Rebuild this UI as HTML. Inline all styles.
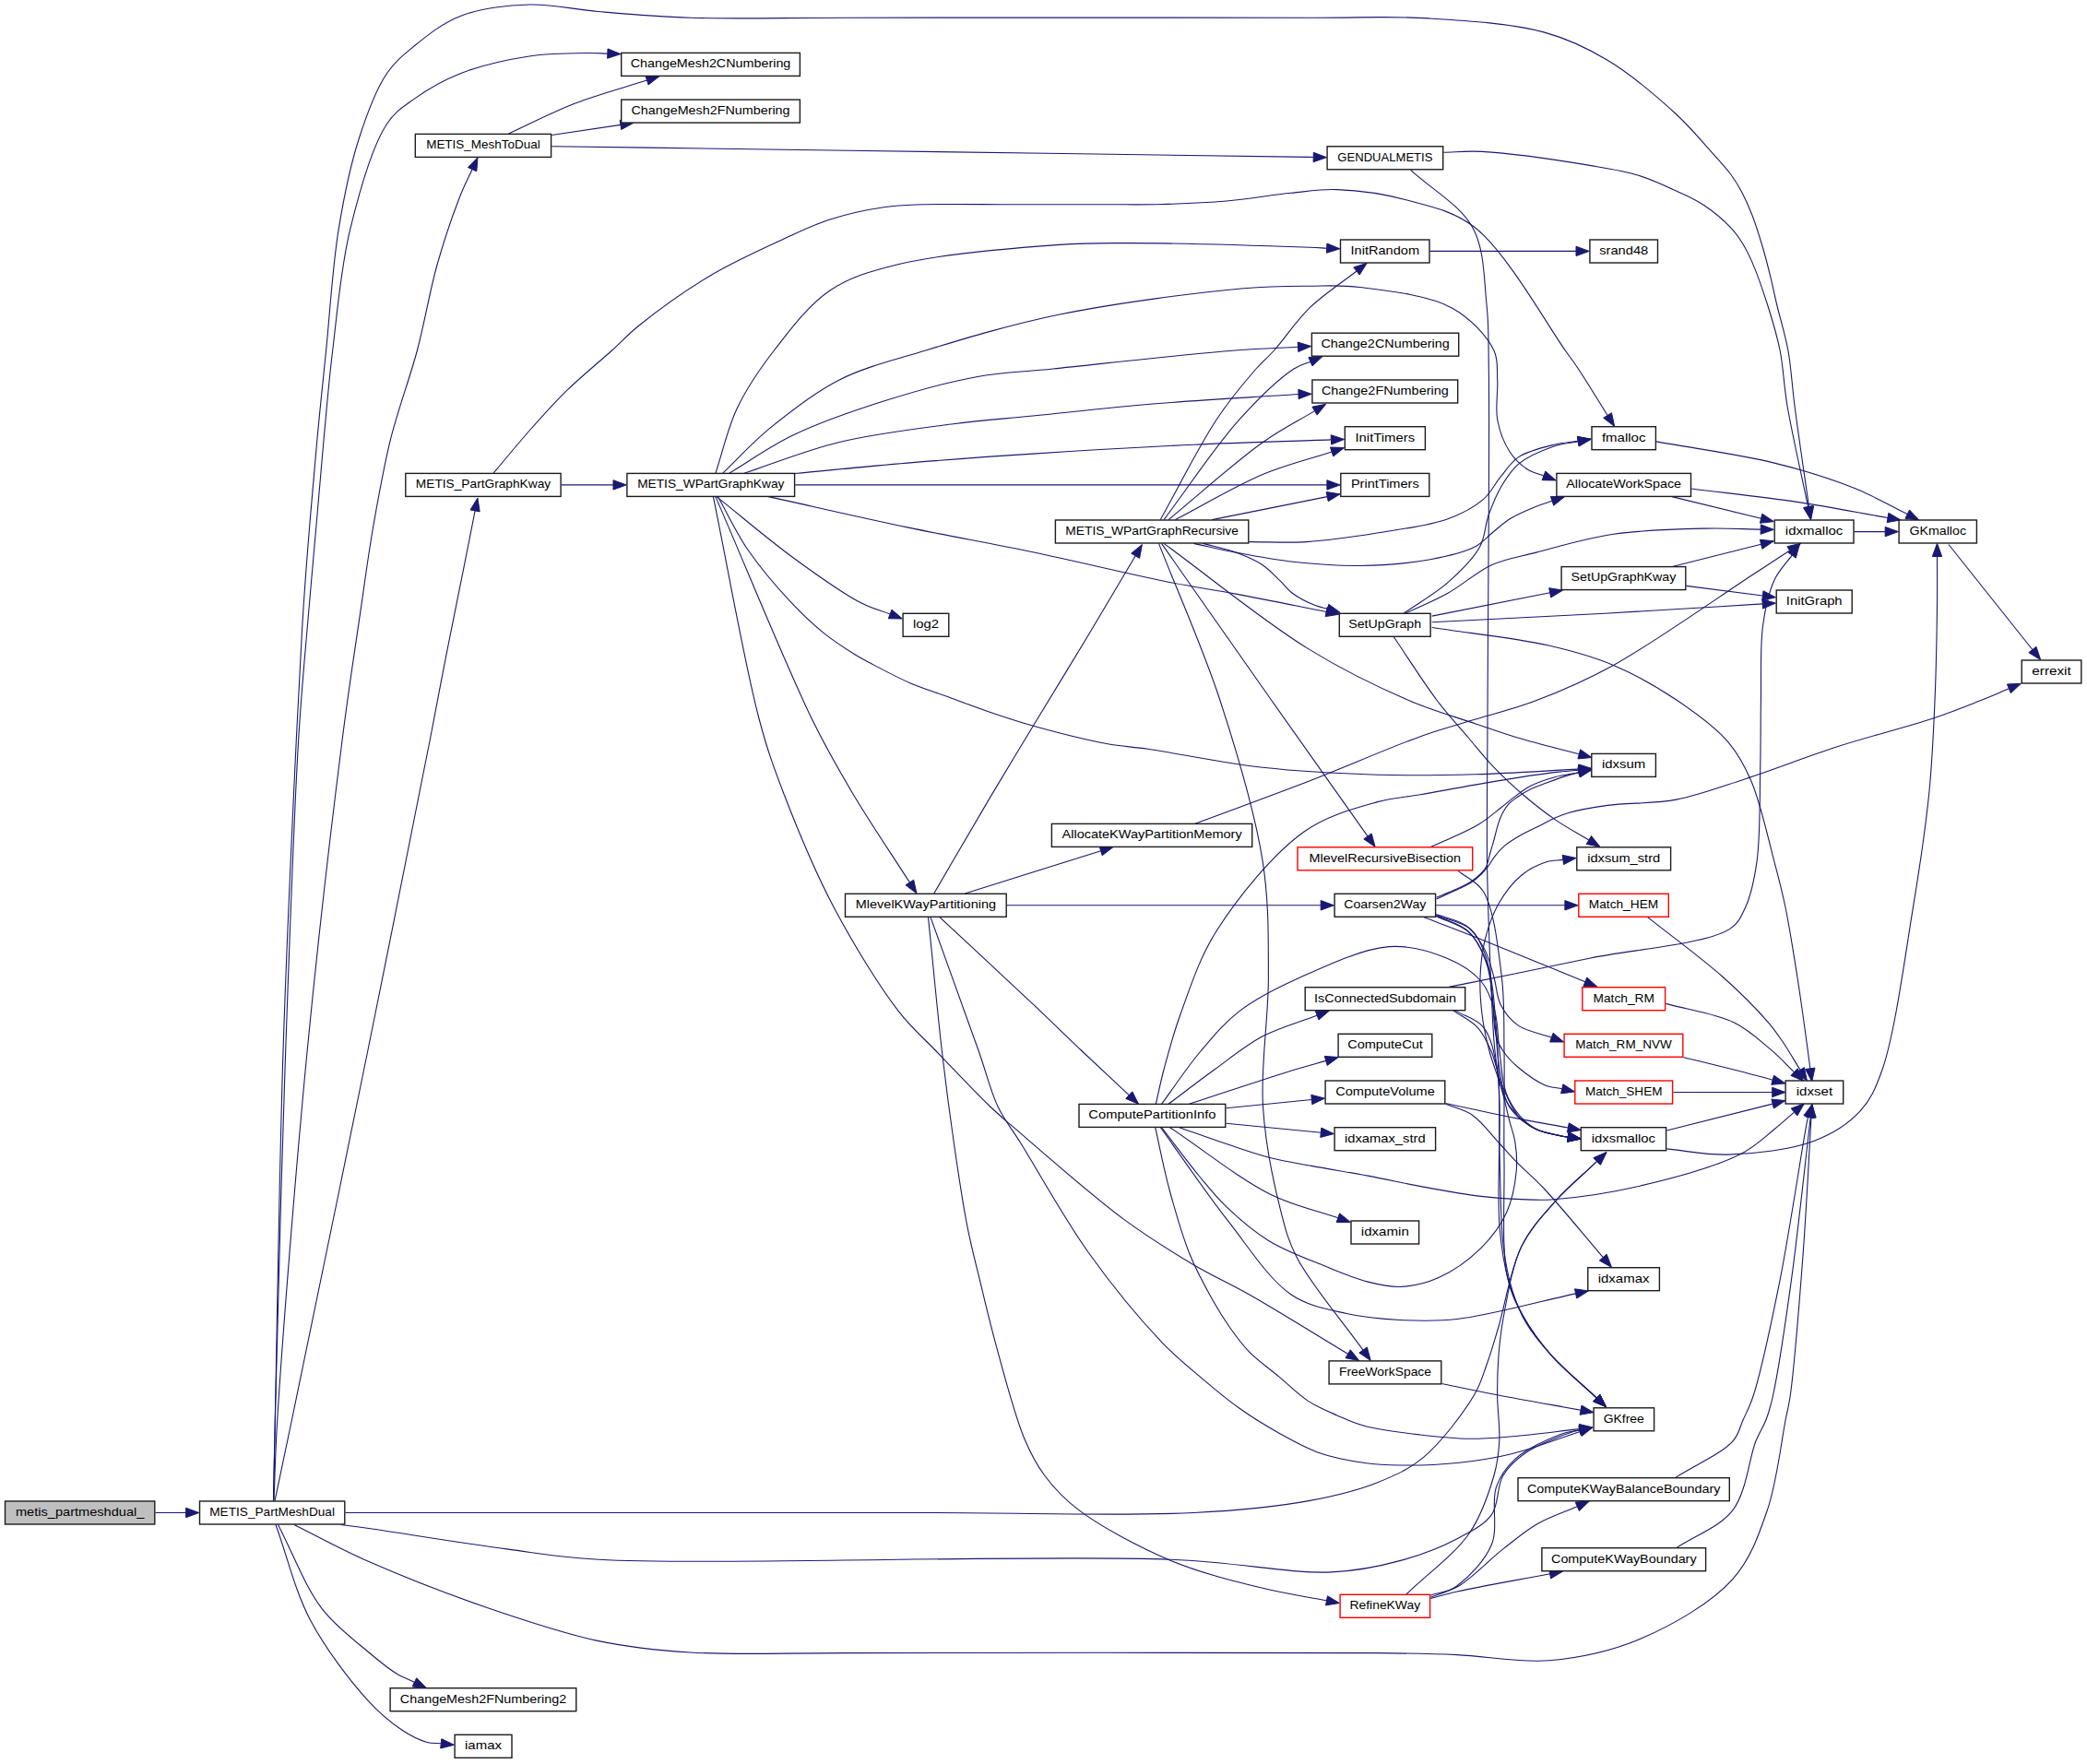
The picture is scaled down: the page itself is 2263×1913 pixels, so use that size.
<!DOCTYPE html>
<html><head><meta charset="utf-8"><title>metis_partmeshdual_ call graph</title>
<style>html,body{margin:0;padding:0;background:#fff;}svg{display:block;}text{font-family:"Liberation Sans",sans-serif;font-size:13.5px;fill:#000;}</style></head><body>
<svg xmlns="http://www.w3.org/2000/svg" width="2263" height="1913" viewBox="0 0 2263 1913">
<rect x="0" y="0" width="2263" height="1913" fill="#fff"/>
<g fill="none" stroke="#191970" stroke-width="1.1">
<path d="M168.5,1640.5L201.6,1640.5"/>
<path d="M296.5,1627.6C297.1,1598.4 297.5,1579.8 298.3,1540C300.1,1455 302.9,1267.9 307,1140C310.8,1022 317.2,887.5 321.4,800C324,745 326,706.6 328.6,665.7C330.8,631.2 333.1,602.2 335.7,570.5C338.3,538.7 341,506.9 344,475.2C347,443.4 350.1,414.2 353.6,380C357.7,339.9 360.5,289.7 367.1,249.2C372.9,213.5 379.8,179.4 389.5,149.5C397.8,123.7 407.5,97.3 419.4,79.7C428.3,66.6 437.5,59.4 449.3,49.8C463.3,38.4 480,24.8 499.2,17.4C520.8,9 548.9,5.8 573.9,5C598.8,4.2 622,10.3 648.7,12.5C679.5,15.1 710.6,17.9 748.3,19.2C797.8,20.9 847.8,19.2 920,19.2C1043.2,19.2 1307.6,18.9 1420,19.2C1477.2,19.4 1506.8,17.2 1549.5,19.9C1591.5,22.5 1639.2,25.4 1674,34.9C1701,42.3 1720.4,51.7 1743,65.3C1768.4,80.5 1797.8,105.7 1817.7,124C1832.6,137.7 1843.4,151.1 1854,162.9C1862.5,172.4 1870.7,180.9 1876.7,189C1881.4,195.4 1884.4,200.5 1888,207.1C1892,214.6 1895.8,222.9 1899.4,232C1903.5,242.4 1907.3,254.6 1910.7,266C1914.1,277.3 1917.1,289.1 1919.8,300.1C1922.3,310.4 1923.9,318.8 1926.6,330C1930,344.5 1935.7,362.5 1938.9,380C1942.3,399 1943,417 1946,440C1950,471.1 1956.3,513 1961.5,549.5"/>
<path d="M296.5,1627.6C297.1,1598.4 297.3,1579.5 298.3,1540C300.3,1457.8 304.7,1284.9 309,1160C313.2,1038.4 318.3,891 323.8,800C327.2,744.4 331.1,706.6 334.5,665.7C337.4,631.2 340.1,602.2 342.9,570.5C345.7,538.7 348.2,506.9 351.2,475.2C354.2,443.4 356.5,414.2 360.7,380C365.6,339.8 369.4,290.9 379.6,249.2C389.3,209.2 403.6,158.5 419.4,134.5C428.5,120.6 437.5,115.6 449.3,107.1C463.3,97.1 480.4,87.1 499.2,79.7C521.1,71.1 549.6,64.7 573.9,61C596.4,57.6 624.7,57.7 640,57.5C648.2,57.4 652.5,57.9 658.8,58.1"/>
<path d="M297,1627.6C298.2,1598.4 298.3,1579.8 300.7,1540C305.9,1455 320.7,1267.8 333.1,1140C344.5,1022 360.3,887.4 371.4,800C378.4,745 384.5,706.6 390.5,665.7C395.5,631.2 399.3,602.2 404.8,570.5C410.4,538.7 415.9,506.8 423.8,475.2C431.8,443.3 443.9,411.7 452.4,380C460.7,348.8 465.9,315.7 474.2,286.5C481.7,260 491.8,230.6 499.2,211.8C503.9,200 507.8,193 512.1,183.6"/>
<path d="M298,1627.6C304.1,1598.4 308.1,1579.8 316.4,1540C334.1,1455 372.7,1268 398.7,1140C422.6,1022.1 451.8,876.1 466.7,800C474.2,761.6 477.5,742.9 483.3,713.3C489.4,682.3 496.7,646.7 502.4,618.1C507.1,594.6 510.9,575.3 515.1,553.9"/>
<path d="M374.5,1640.5C583,1640.5 830.3,1640.5 1000,1640.5C1116.4,1640.5 1217.1,1644.5 1294.4,1640.5C1344.8,1637.9 1383,1634.2 1419,1627.6C1447.3,1622.4 1471.8,1616.5 1493.7,1607.7C1512.5,1600.2 1527.8,1593.5 1543.6,1580.3C1563.1,1564 1587,1532.2 1598.4,1513C1605.7,1500.7 1607.8,1491.7 1612,1480C1616.7,1467.2 1620,1455.3 1624.9,1439C1632,1415.4 1637.8,1375.9 1649.8,1351.8C1659.7,1331.8 1673.5,1317.4 1687.2,1302C1700.8,1286.6 1716.9,1273.6 1731.7,1259.4"/>
<path d="M370,1653.5C380,1654.8 386.2,1655.5 400,1657.5C430.8,1661.9 504.6,1674 549.5,1679.9C586,1684.7 601.6,1688.5 649.2,1691.2C767.4,1697.9 1126.3,1685.6 1269.5,1691.2C1345.6,1694.2 1398,1706.9 1443.9,1704.9C1474.1,1703.6 1495.3,1698.8 1518.7,1692.4C1540.5,1686.4 1562.5,1678 1580,1668.7C1594.5,1661 1609.1,1654.2 1617.4,1642.6C1625.6,1631.2 1622.9,1611.8 1629.8,1600.2C1635.9,1589.9 1644.2,1582.6 1654.7,1575.3C1667.8,1566.2 1694.8,1556.1 1704.6,1552.9C1708.5,1551.6 1710.3,1551.7 1713.1,1551"/>
<path d="M318.9,1653.5C345.9,1666.9 369.8,1680.3 400,1693.6C436.8,1709.8 482.8,1727.8 524.6,1742.2C565.8,1756.4 609.7,1771.3 649.2,1779.6C683.9,1786.9 711,1789.6 748.8,1792C798.1,1795.1 846.2,1792.5 920,1792.6C1055.1,1792.8 1386.8,1791.4 1493.7,1792.6C1535.2,1793.1 1550.2,1793.3 1580,1794.6C1612,1796 1646.7,1803.6 1679.7,1800.8C1713.1,1797.9 1747.2,1790.8 1779.3,1777.1C1813.9,1762.3 1855.8,1738.3 1879,1712.3C1898.5,1690.5 1907,1664.8 1916.4,1637.6C1926.6,1607.9 1931.7,1562.4 1936.1,1540C1938.4,1528.2 1939.5,1525.7 1941.3,1513C1945.5,1483.4 1951,1414.1 1954.8,1364.2C1958.6,1313.7 1961,1262.6 1964,1211.8"/>
<path d="M301.5,1653.5C317.3,1683.7 330.4,1720 348.8,1744.2C364,1764.2 384.9,1779.2 400,1792C411.1,1801.4 420.8,1809.4 430,1815C437,1819.3 443,1821.2 449.5,1824.4"/>
<path d="M299,1653.5C311.5,1687.9 319.6,1724.8 336.4,1756.7C353,1788.2 379.4,1822.7 398.7,1843.9C411.8,1858.3 424.2,1868.4 436,1876.3C445.1,1882.3 454.4,1886.9 462.3,1889.2C468.1,1890.9 472.9,1890.3 478.3,1890.8"/>
<path d="M551.5,145C575.6,134 598.9,121.7 623.7,112.1C648.9,102.4 675.6,95.4 701.5,87.1"/>
<path d="M598.3,146.5L673,135.4"/>
<path d="M598.3,158.7C705.5,160.2 801,161.5 920,163.2C1068.4,165.3 1392,170 1420,170.4C1422.6,170.4 1422.8,170.4 1424.2,170.5"/>
<path d="M608.8,525.9L665,525.9"/>
<path d="M535,513.2C548.3,497.5 561.5,481.2 575,466C588.2,451.1 600.8,436.9 615.2,422.9C630.3,408.2 649.5,392.7 663.6,380C674.6,370 680.4,363.1 692.9,353C712.2,337.5 744,314.5 770.5,298.7C795.8,283.6 824.7,270.7 848.1,259.9C867,251.2 881.8,243.8 900,238C919,231.9 941.9,227.1 960,224.5C974.6,222.4 983.7,222.4 1000,221.8C1025.8,220.9 1066.7,221.8 1100,221.8C1133.3,221.8 1170.9,221.9 1200,221.8C1222.5,221.7 1239.2,222.1 1260,221.5C1282.4,220.9 1306.7,220 1330,218C1353.4,216 1378.6,211.4 1400,209.3C1418,207.5 1431.6,204.9 1449.8,205.6C1472.2,206.4 1500.1,210.1 1524.6,216.8C1549.9,223.7 1575.3,228.1 1599.3,246.7C1633.7,273.4 1679.3,355.1 1697.2,380C1704.1,389.6 1705.9,391.7 1711.4,400C1720,412.9 1732.6,433.7 1743.1,450.5"/>
<path d="M775.9,513.2C783.8,489.6 788.9,464.5 799.5,442.3C810.1,420.2 823.7,400.3 839.4,380C856.7,357.8 876.7,330.7 900,315C922.1,300.1 944,294.1 974.7,286.5C1020.1,275.3 1102.9,268.7 1149,265.4C1179.1,263.2 1193.1,263.6 1224,263.6C1273.9,263.6 1389.2,267.2 1420,268.3C1429.5,268.6 1432.4,268.9 1438.6,269.2"/>
<path d="M783.8,513.2C800.7,497 815.2,480.5 834.4,464.7C856.3,446.7 881.7,426.4 909.2,412.4C938,397.8 968.7,390.7 1003.8,380C1046.8,366.9 1096.4,351.8 1149,341C1209.9,328.6 1298.6,317.1 1348.5,312.7C1378.2,310.1 1397.8,310.3 1420,310.2C1439.5,310.1 1453.9,308.9 1474.7,311.5C1503.1,315 1549.1,319.8 1574.4,333.9C1594.6,345.1 1612.6,364.7 1619.9,380C1625.1,390.8 1623,400.8 1623.7,412.4C1624.5,425.6 1621.2,441.7 1623.7,455C1626,467.5 1631,480.6 1637.1,490C1642.3,498 1649.5,504.6 1656.2,509C1661.9,512.7 1668,513.6 1674,515.9"/>
<path d="M790.8,513.2C813.6,499.5 833.7,484.5 859.3,472.2C888.9,458 925.5,445.4 959,434.8C992,424.3 1026.8,414.5 1058.7,408.7C1087.4,403.5 1108.1,403.5 1141.7,400C1193.4,394.7 1290.2,383.8 1339,380C1367.7,377.8 1384.7,377.5 1407.5,376.3"/>
<path d="M807,513.2C841.1,502 873.1,488.5 909.2,479.7C948.3,470.2 995.9,464.6 1033.7,459.7C1065,455.6 1088.3,454.2 1120,451C1158.9,447.1 1204.5,441.8 1250,438C1300.1,433.8 1355.3,431 1408,427.5"/>
<path d="M861.8,513.5C902.5,509.7 942.1,505.6 983.9,502.1C1028,498.4 1071.8,495.2 1120,492.1C1174.5,488.5 1238.5,484.8 1294.4,482.2C1346,479.8 1393.7,478.7 1443.4,476.9"/>
<path d="M862.3,525.9L1438.9,525.9"/>
<path d="M833.2,538.6C883.4,549.7 934.9,561.6 983.9,571.9C1030.4,581.6 1073.6,589.1 1120,598.8C1168.7,609 1228.9,623.7 1269.5,631.7C1297.3,637.2 1314.6,639.4 1340,644.1C1370,649.7 1405.4,657 1438.2,663.5"/>
<path d="M777.1,538.6C804.5,560.5 832.1,584.3 859.3,604.2C884.4,622.6 914.1,643.8 934.1,654.1C946.3,660.4 954.8,662 965.1,665.9"/>
<path d="M778.4,538.6C789.3,557.8 798.3,577.7 811,596.3C824.3,615.7 842.1,636.5 857,652.4C869.2,665.5 880.5,676.2 892.7,686.1C904,695.2 917.9,704.1 927.3,710C933.5,713.8 936.5,715.3 943.1,718.8C953.9,724.5 971.6,734.1 986.2,740.4C1000.4,746.5 1015,750.9 1029.4,756.2C1043.8,761.5 1057.6,766.9 1072.5,772C1088.2,777.4 1103.1,782.4 1121.4,787.5C1144.4,793.9 1177.4,802.3 1200,806.5C1216.9,809.6 1226,809.6 1244.6,812.3C1275.7,816.8 1327.6,827.6 1369.2,832.3C1410.6,836.9 1453.8,839 1493.7,840.2C1530.5,841.3 1564.1,840.7 1600,839.7C1636.8,838.7 1674.5,836 1711.8,834.1"/>
<path d="M775.9,538.6C810.8,619.1 852,721.7 880.5,780C897.3,814.2 907.8,832.1 924.2,859.7C942.6,890.8 965.6,924.6 986.4,957"/>
<path d="M773.4,538.6C790,619.1 807.6,721.6 823.2,780C832.3,814.1 838.3,830.5 849.5,859.7C863.8,896.9 883.3,944.5 904.3,984.2C925,1023.3 952.6,1068.5 974.1,1096.4C988.6,1115.2 1000.2,1124.4 1015.2,1140C1032.9,1158.5 1058,1185.1 1073.6,1200C1083.5,1209.4 1087.1,1212.2 1098.7,1222.2C1123.7,1243.7 1182.6,1295.7 1218.7,1322.4C1246.2,1342.7 1270.3,1357.4 1294.4,1371.7C1315.4,1384.1 1332,1391.1 1354.8,1404C1385.6,1421.5 1426,1446.9 1461.6,1468.3"/>
<path d="M1012.7,969C1033,934.2 1054.2,897.5 1073.7,864.6C1091.4,834.9 1107.3,808.7 1124.7,780C1142.7,750.2 1162,719 1180,689C1197.5,659.9 1214.1,631.5 1231.2,602.7"/>
<path d="M1046.3,969L1193.7,922.8"/>
<path d="M1091.9,981.8L1432.2,981.8"/>
<path d="M1006.5,994.6C1011.5,1043.1 1016.3,1096.1 1021.4,1140C1025.6,1176.5 1029.7,1207.5 1034.4,1240C1038.9,1271 1043.8,1304.4 1049,1330.7C1053,1351.2 1057,1365.8 1061.7,1385.2C1067.1,1407.7 1072.6,1431.6 1079.8,1457.8C1088.4,1489.1 1099.9,1534.2 1110.7,1560C1117.8,1576.9 1123.3,1587.5 1132.6,1600C1142.6,1613.5 1153.2,1625.1 1169.8,1637.6C1194.1,1655.9 1235.5,1678.1 1269.5,1692.4C1302,1706 1338.8,1714.8 1369.2,1722.3C1394.2,1728.5 1415.4,1731.3 1438.5,1735.8"/>
<path d="M1009,994.6C1026.4,1043.1 1047.9,1102.1 1061.3,1140C1069.9,1164.3 1073.6,1182.4 1082,1200C1089.2,1215.1 1096.5,1223.1 1107,1240C1125,1268.9 1153.8,1321.3 1180,1358C1205,1393 1236.7,1431.4 1260,1455.8C1275.6,1472.2 1288,1481.7 1302.2,1493.8C1316.1,1505.6 1330,1517.3 1344.3,1527.5C1358.1,1537.3 1372.2,1545.9 1386.5,1553.9C1400.4,1561.7 1413.6,1569.5 1428.7,1574.9C1444.6,1580.6 1464,1584.2 1480,1586.5C1493.7,1588.5 1504.3,1588.8 1518.7,1589C1536.8,1589.2 1559.7,1588.6 1580,1586.5C1600.2,1584.4 1619.2,1581.6 1640,1576.5C1663.5,1570.7 1689,1560.4 1713.5,1552.4"/>
<path d="M1018.9,994.6C1052.6,1026 1091.7,1062.2 1120,1088.9C1140.7,1108.4 1155.8,1123.3 1173.4,1140C1190.5,1156.2 1207.3,1171.7 1224.2,1187.6"/>
<path d="M1258.3,563.6C1278.6,527.3 1299.7,484.2 1319.3,454.7C1333.9,432.7 1350.2,413.5 1362,400C1369.5,391.4 1374.2,388.2 1381.6,380C1392.5,368 1405.4,348 1420,333.9C1435.1,319.3 1454,307.3 1471,294"/>
<path d="M1262,563.6C1289.4,527.3 1317.8,483.9 1344.2,454.7C1364.4,432.3 1388.4,409.5 1403,400C1410.2,395.3 1415,394.8 1421,392.2"/>
<path d="M1267,563.6C1301.1,535.6 1339.5,500.7 1369.2,479.7C1390.2,464.9 1406.8,457 1425.5,445.6"/>
<path d="M1274.5,563.6C1306.1,547.2 1339,527.2 1369.2,514.5C1395.2,503.6 1419.1,498.1 1444.1,489.9"/>
<path d="M1314.3,563.6L1439.2,538.6"/>
<path d="M1354.4,587.6C1375.2,587.6 1394.9,589 1416.7,587.6C1441,586.1 1467.8,582.1 1493.3,578C1518.9,573.8 1549.3,570.3 1570,562.7C1585.5,557 1598.4,550.1 1608.3,541.6C1616.7,534.4 1620.9,524.5 1627.5,516.7C1633.8,509.2 1638.3,501.1 1646.7,495.6C1656.7,489 1673.3,485.1 1685,482.2C1694.4,479.9 1702.4,479.7 1711.1,478.4"/>
<path d="M1294.4,589.4C1309.6,592.6 1323.9,596 1340,599.1C1358,602.5 1376.9,606.3 1397.5,608.7C1421.2,611.4 1448.7,613.8 1474.2,613.5C1499.8,613.2 1528.4,610.8 1550.8,606.7C1568.8,603.4 1586.8,599.4 1598.7,593.3C1607.1,589 1611.5,583.1 1617.9,578C1624.3,572.9 1629.8,567.3 1637.1,562.7C1645.4,557.5 1657.4,552.6 1665.8,549.2C1672.2,546.6 1677.3,545.3 1683.1,543.3"/>
<path d="M1304.4,589.4C1316.3,592.6 1328.9,595 1340,599.1C1350.3,602.9 1360.4,607 1368.7,612.5C1376.2,617.4 1382.1,624.2 1387.9,629.7C1392.8,634.4 1395.8,639.1 1401.3,643.2C1408,648.2 1419.1,653.7 1426.2,656.6C1431.2,658.6 1435,659.1 1439.4,660.3"/>
<path d="M1256.5,589.4C1278.7,646.3 1304.3,702.3 1323.1,760C1341.8,817.3 1360.9,880.7 1369.2,934.4C1376.1,979 1375.2,1016.2 1375.4,1059C1375.6,1104.5 1366.7,1155.7 1369.5,1200C1372,1240 1381.1,1283.3 1388.8,1313.4C1394.1,1334 1396.7,1345.2 1406.5,1364.2C1421.4,1392.9 1454.2,1430.8 1478,1464.1"/>
<path d="M1259.5,589.4C1299.4,646.3 1340.6,705.3 1379.1,760C1414.9,810.8 1448.4,857.9 1483,906.9"/>
<path d="M1262,589.4C1314.3,627.6 1370.3,673.9 1419,703.9C1457.8,727.8 1495.5,745.8 1528.6,760C1554.5,771.1 1578.9,777.7 1600,784.9C1616.8,790.6 1628.7,795 1645.4,800C1665.5,806 1690,811.9 1712.3,817.8"/>
<path d="M1522.1,665.2C1538.1,654 1556,644.1 1570,631.7C1583.2,620 1597.2,606.6 1604.5,593.3C1610.6,582.2 1610.2,569.8 1614.1,558.8C1617.9,548.2 1622,537.6 1627.5,528.2C1632.9,519.1 1638.2,510.2 1646.7,503.2C1656.6,495 1673.2,488.2 1685,484.1C1694.4,480.9 1702.6,480.6 1711.4,478.8"/>
<path d="M1524,665.2C1539.3,657.9 1554.8,651.7 1570,643.2C1586.1,634.2 1601.4,619.9 1617.9,612.5C1633.4,605.6 1647.6,603.8 1665.8,599.1C1689.8,592.9 1720.2,583.6 1749.5,579.3C1781.1,574.6 1820.2,573.8 1849.2,573.1C1871.7,572.6 1889.2,573.7 1909.2,574.1"/>
<path d="M1552.7,668.1L1680.7,642.8"/>
<path d="M1552.7,674.8C1615.1,671.6 1679,668.6 1740,665.2C1798.4,662 1854.2,658.4 1911.2,654.9"/>
<path d="M1552.7,680.5C1594.9,687 1643.4,691.8 1679.2,700C1706.3,706.2 1726.6,711.7 1749.5,721.4C1773.4,731.5 1798,745.6 1819.3,760C1839.3,773.6 1860.3,788.8 1874,804.8C1885.5,818.2 1891.6,830 1899,847.2C1909,870.6 1917.3,909.4 1923.9,934.4C1928.9,953.2 1932.2,965.7 1936,984C1940.6,1006.4 1944.9,1034.3 1948.8,1059C1952.6,1083 1956.5,1111.6 1959,1130C1960.6,1141.7 1961.6,1149.2 1962.8,1158.8"/>
<path d="M1511.2,690.5C1527,713.7 1543.6,740.3 1558.5,760C1570.3,775.5 1581.5,787.5 1592.2,800C1601.7,811.2 1609.5,821.4 1619.4,831.7C1629.8,842.6 1641.8,853.7 1653.4,863.5C1664.5,872.9 1675.7,881.6 1687.4,889.6C1698.9,897.4 1711,903.8 1722.8,911"/>
<path d="M1814.3,614.2L1909.6,590.3"/>
<path d="M1828.5,635.4L1911.3,646"/>
<path d="M1813,538.6L1909.6,562.2"/>
<path d="M1834.2,530C1872.4,534.8 1912.1,538.9 1948.8,544.4C1982.9,549.5 2014.3,555.8 2047,561.5"/>
<path d="M1796.1,478.9C1838.7,486.6 1885.6,492.7 1923.9,502.1C1956,510 1985.4,519.2 2011.1,529.5C2032.5,538.1 2049.1,548.2 2068.2,557.6"/>
<path d="M2010.7,576.6L2044.2,576.6"/>
<path d="M2113,590.5L2203.8,704.5"/>
<path d="M1550.7,272.4L1709,272.4"/>
<path d="M1565.4,165.2C1579.2,164.9 1589.5,163.5 1606.8,164.4C1636,166 1692.7,174.2 1723.9,179.4C1744.8,182.9 1759.6,185 1776,190C1791.5,194.7 1807.1,202.2 1820,208.2C1830.6,213.1 1839.2,216.9 1848.3,223C1858.1,229.6 1869.7,239.5 1876.7,246.8C1881.7,252 1884.4,256 1888,261.5C1892.1,267.9 1895.5,274.4 1899.4,283.1C1904.9,295.6 1911.3,314 1916.4,330C1921.6,346.3 1926.6,362.4 1930.1,380C1933.9,399 1934.1,417.1 1938,440C1943.3,471.2 1953.1,513.1 1960.6,549.7"/>
<path d="M1529.6,184.4C1552,205.2 1583.1,221.8 1596.8,246.7C1609.9,270.6 1609.1,303.3 1612,330C1614.6,354.2 1613.8,367.3 1614.3,400C1615.4,476.1 1613.3,680.3 1613,780C1612.8,844.7 1612,896.7 1612.6,940C1613,969.6 1613.9,990.9 1614.7,1014.7C1615.4,1036.4 1616.2,1056.2 1617.2,1077C1618.3,1097.9 1618.8,1121.4 1621,1140C1622.7,1154.9 1624.3,1168.4 1628,1180C1631.1,1189.5 1634.1,1197.8 1640,1205C1646.3,1212.8 1656.2,1220.1 1665.4,1224.6C1674.3,1229 1688.1,1231 1694.2,1232.2C1696.9,1232.7 1698.2,1232.8 1700.2,1233"/>
<path d="M1295.7,893.3C1336.8,877.9 1377.9,863.1 1419,847.2C1460.5,831.1 1510,809.3 1543.6,797.4C1565.9,789.5 1580.5,786 1600,780C1620.9,773.6 1642,768.7 1664.8,760C1691.5,749.9 1718,738.7 1749.5,721.4C1793.1,697.5 1864.6,646.6 1899,624.2C1917.2,612.4 1926.8,606.1 1940.7,597"/>
<path d="M1551.3,918.5C1559.9,914.7 1568.7,911.1 1577.2,907.1C1585.8,903.1 1596,898.2 1602.6,894.4C1607.1,891.8 1609.7,889.9 1613.5,887.1C1617.8,883.9 1622.6,879.9 1627.1,876.3C1631.6,872.7 1635.8,869.1 1640.7,865.4C1646.2,861.2 1651.9,856.3 1658.8,852.7C1666.7,848.6 1676.9,845.2 1686,842.7C1694.7,840.3 1703.4,839.4 1712.1,837.7"/>
<path d="M1580.9,944.4C1590.1,951.9 1601.2,955 1608.4,966.8C1620.2,986 1624.6,1029.1 1628.3,1059C1631.7,1086.7 1630.5,1110.4 1631,1140C1631.6,1176.1 1630.4,1219.6 1631,1260C1631.6,1301.1 1628.1,1354.4 1634.4,1384.6C1638.2,1402.9 1643.9,1413.3 1651.4,1427C1659.5,1441.7 1669.8,1455.7 1682,1469.6C1695.8,1485.4 1714.8,1500.5 1731.3,1516"/>
<path d="M1557.7,973.3C1564.2,970.6 1570.9,968 1577.2,965.1C1583.4,962.2 1590.2,959.3 1595.3,956C1599.6,953.2 1603.3,950 1606.2,947C1608.5,944.6 1610.2,942.6 1611.6,939.7C1613.3,936.2 1614,931.7 1615.3,927C1616.9,921.3 1619.1,913.8 1620.7,908C1622,903.1 1622.9,898.7 1624.3,894.4C1625.6,890.3 1627,886.4 1628.9,882.6C1630.9,878.8 1633.3,874.8 1636.1,871.7C1638.8,868.8 1641.8,866.9 1645.2,864.5C1649.2,861.7 1653.8,858.8 1658.8,856.3C1664.3,853.6 1670.5,851.5 1676.9,849.1C1684.1,846.4 1693.5,842.9 1700,840.9C1704.7,839.4 1708.2,838.7 1712.3,837.6"/>
<path d="M1557.7,975C1564.2,972 1570.8,969 1577.2,966C1583.4,963 1590.2,960.3 1595.3,957C1599.6,954.2 1603,951.1 1606.2,948C1609,945.3 1611.2,942.7 1613.5,939.7C1616,936.4 1617.9,932.4 1620.7,928.8C1623.8,924.8 1627.2,920.8 1631.6,917.1C1636.7,912.8 1643.6,908.8 1649.7,905.3C1655.7,901.9 1661.8,899.2 1667.9,896.2C1673.9,893.2 1680.3,889.6 1686,887.1C1690.9,884.9 1694,883.4 1700,881.7C1710.3,878.7 1726.6,875.7 1743,873.4C1764.4,870.4 1793,871.8 1817.7,867.1C1842.9,862.3 1865.9,853.3 1892.5,844.7C1923.5,834.7 1958.4,820.7 1992.2,809.8C2026.5,798.7 2068.5,788.2 2096.8,778.7C2116.6,772.1 2131.9,765.8 2146.6,760C2158.4,755.3 2167.8,751.2 2178.4,746.8"/>
<path d="M1557.3,981.8L1696.9,981.8"/>
<path d="M1543.6,994.6C1563.2,1002.1 1579.5,1008.1 1602.3,1017.2C1634.6,1030 1680,1049 1718.9,1064.8"/>
<path d="M1557.3,991.5C1568.2,995.7 1581.1,997.4 1590,1004C1598.6,1010.4 1605,1020.6 1610,1030C1614.9,1039.3 1617.1,1050 1620,1060C1622.8,1069.8 1622.8,1080.8 1627.2,1089.5C1631.5,1098 1637.7,1106.1 1645.9,1111.9C1655.4,1118.6 1670.2,1120.7 1682.4,1125.1"/>
<path d="M1557.3,992.5C1569.9,997.7 1585.8,999.7 1595,1008C1603.7,1015.9 1608.2,1028.4 1612,1040C1616,1052.3 1616.3,1066.3 1618,1080C1619.8,1094.3 1619.3,1113.2 1622.3,1124C1624.2,1130.9 1626.5,1134.8 1630,1140C1634.1,1146 1639.6,1151.9 1646.2,1157.5C1654.1,1164.2 1666.1,1172.9 1675,1176.7C1681.6,1179.5 1687.5,1179.5 1693.7,1180.8"/>
<path d="M1557.3,993C1568.9,998.7 1582.9,1001.5 1592,1010C1601.3,1018.7 1607.4,1031.5 1612,1045C1617.5,1060.8 1617.7,1081.2 1620,1100C1622.4,1119.5 1623.2,1142.8 1626,1160C1628.2,1173.3 1629.5,1185.8 1634,1195C1637.5,1202.2 1642.7,1207 1648,1212C1653.2,1216.9 1658.5,1221.3 1665.4,1224.6C1673.5,1228.4 1688.1,1231 1694.2,1232.2C1696.9,1232.7 1698.2,1232.8 1700.2,1233"/>
<path d="M1557.3,993.5C1569.5,999.7 1584.6,1002.8 1594,1012C1603.6,1021.5 1609.4,1035.4 1614,1050C1619.5,1067.3 1620,1087.9 1622,1110C1624.4,1136.9 1625.3,1167.2 1626,1200C1626.9,1239.4 1623.1,1295 1626,1330C1628,1353.9 1631,1372.7 1636,1390C1640,1404.1 1644.5,1414.6 1651.4,1427C1659.3,1441.2 1669.8,1455.7 1682,1469.6C1695.8,1485.4 1714.8,1500.5 1731.3,1516"/>
<path d="M1571,1070.4C1594,1065.8 1615.8,1061.4 1640,1056.5C1666.8,1051 1692.4,1045.7 1724.6,1039C1767.6,1030.1 1850.5,1023.6 1875,1007.9C1885.7,1001 1887.8,994.1 1892.5,984.2C1898.7,971.1 1902.2,954 1905,934.4C1908.9,907 1908,865.5 1908.7,834.7C1909.3,808 1909,785.4 1909.4,760C1909.9,733.5 1908.3,702.6 1911.5,679C1914,660.2 1917.7,642.8 1923.9,629.2C1928.9,618.2 1936.7,611.1 1943.1,602.1"/>
<path d="M1576,1096.1C1584.8,1102.2 1595.4,1106.9 1602.3,1114.4C1608.9,1121.6 1612.9,1130.6 1617,1140C1621.6,1150.5 1623.3,1163.5 1628,1175C1632.9,1186.9 1638.7,1201.4 1646,1210C1651.7,1216.8 1657.9,1221 1665.4,1224.6C1673.7,1228.6 1688.1,1231 1694.2,1232.2C1696.9,1232.7 1698.2,1232.8 1700.2,1233"/>
<path d="M1578,1096.1C1588.1,1102 1601,1104.6 1608.4,1113.8C1617.1,1124.6 1620.2,1141.8 1623.3,1160C1627.6,1184.8 1624.9,1219.2 1626,1250C1627.1,1282.5 1626.7,1322.5 1630,1350C1632.3,1369.6 1635.4,1385 1640,1400C1644,1412.9 1648.4,1423.8 1655,1435C1662.1,1447 1671.1,1457.7 1682,1469.6C1695.5,1484.4 1714.8,1500.5 1731.3,1516"/>
<path d="M1253.3,1197.3C1256.2,1184.9 1258.3,1173.8 1262,1160C1266.7,1142.3 1272,1121.8 1280,1100C1290,1072.6 1300.2,1039.2 1319.3,1009.2C1342.2,973.1 1380.9,925.5 1414,902C1439.7,883.8 1470.4,876.2 1493.7,869.6C1510.9,864.7 1522.5,864.8 1540,861.8C1562.9,857.8 1593.9,851.8 1619.4,847.6C1642.9,843.7 1670.4,839.4 1687.4,837.4C1697.6,836.2 1703.7,836 1711.9,835.2"/>
<path d="M1259.5,1197.3C1273.6,1178.2 1287.2,1157.4 1301.9,1140C1315.5,1124 1327.7,1109.1 1344.2,1096.4C1362.1,1082.6 1382.8,1072.2 1406.5,1061.5C1435.4,1048.5 1476.6,1028.7 1506.2,1026.6C1529.2,1025 1551,1031.7 1568.5,1039C1583.3,1045.1 1597.1,1053.7 1605.9,1064C1613.8,1073.2 1617.4,1084.5 1620.8,1096.4C1624.5,1109.6 1624,1125.4 1626,1140C1628,1154.9 1628.5,1172.5 1633,1185C1636.6,1195 1642,1203.2 1648,1210C1653.5,1216.2 1659.6,1221.3 1667,1225C1675.1,1229 1689.3,1231.1 1695,1232.2C1697.4,1232.7 1698.5,1232.7 1700.2,1233"/>
<path d="M1267,1197.3C1283.6,1184.9 1299.9,1172.2 1316.8,1160C1333.9,1147.7 1350.6,1133.6 1369.2,1123.8C1387.7,1114 1408.5,1108.7 1428.1,1101.2"/>
<path d="M1289.4,1197.3C1327.6,1184.9 1377.1,1168.2 1404,1160C1418.5,1155.6 1426.5,1153.6 1437.7,1150.4"/>
<path d="M1329.5,1201.8L1422.3,1192.5"/>
<path d="M1329.5,1218.3L1432.3,1228.2"/>
<path d="M1278.8,1222.7C1295.9,1228.7 1313.4,1235 1330,1240.6C1345.7,1245.8 1360.6,1251.2 1376,1255.2C1391.2,1259.1 1405.5,1261.3 1422,1264.4C1440.9,1267.9 1462.9,1271.3 1483.3,1275.1C1503.8,1278.9 1524.2,1283.7 1544.7,1287.4C1565.1,1291.1 1587.2,1295.2 1606,1297.4C1621.8,1299.3 1636.2,1300.1 1650,1300.6C1662.2,1301.1 1670.5,1301.8 1684.7,1300.7C1707.7,1299 1743.1,1294.2 1774.4,1287C1810,1278.8 1859.9,1265.5 1886.5,1252.1C1903.2,1243.7 1913.3,1233.2 1923.9,1224.7C1932.2,1218.1 1938.3,1212.3 1945.5,1206.1"/>
<path d="M1268.6,1222.7C1304.9,1246.9 1343.8,1278.4 1377.5,1295.2C1403.5,1308.1 1426.4,1312.2 1450.9,1320.7"/>
<path d="M1259.5,1222.7C1273,1240.1 1287.3,1259.6 1300,1275C1310.5,1287.7 1318.4,1297.9 1330,1308.9C1343.2,1321.5 1358.8,1335.2 1376,1345.7C1394.3,1356.9 1418.2,1365.5 1437.3,1373.3C1453.6,1379.9 1468.8,1386.4 1483.3,1390.1C1495.7,1393.3 1506.4,1396 1518.6,1395.5C1531.9,1394.9 1546.4,1391.6 1560,1385.5C1575.6,1378.5 1593.4,1365.7 1606,1353.3C1617.5,1341.9 1627.2,1329 1633.6,1315C1640,1300.9 1643.1,1282.9 1644.3,1269C1645.3,1257.8 1644.3,1247.7 1642.8,1238.3C1641.5,1230 1638.9,1223.8 1636.7,1215.3C1634,1204.8 1631.4,1192.1 1628,1180C1624.3,1167 1618.5,1153.4 1615,1140C1611.5,1126.8 1608.7,1113.4 1607,1100C1605.4,1086.7 1604.5,1073.3 1605,1060C1605.5,1046.6 1606.8,1033.1 1610,1020C1613.3,1006.5 1618.2,992 1625,980C1631.6,968.4 1640.7,956.7 1650,949C1658,942.4 1667.8,937.7 1676,935C1682.6,932.8 1688.6,933.3 1694.9,932.4"/>
<path d="M1258.4,1222.7C1283,1256.7 1307.4,1293.3 1332.1,1324.7C1354.6,1353.3 1375.8,1387.5 1400.1,1404C1419.1,1416.8 1439.9,1419.9 1460,1424.5C1479.4,1428.9 1498.9,1430.5 1518.7,1431.5C1538.9,1432.5 1556,1433.2 1580,1430.5C1615.2,1426.5 1665.7,1412.1 1708.6,1402.9"/>
<path d="M1252.7,1222.7C1257.8,1245.1 1261.9,1267.5 1268,1290C1274.3,1313.2 1281.5,1338.9 1290,1360C1297.4,1378.4 1306.9,1395.6 1315,1410C1321.4,1421.4 1327.1,1430.5 1333.8,1440C1340.4,1449.3 1346.7,1458 1354.9,1466.4C1364,1475.7 1376,1483.9 1386.5,1492.7C1397,1501.5 1407.1,1511.9 1418.1,1519.1C1428.3,1525.8 1439.3,1530.3 1449.8,1534.9C1459.9,1539.3 1468,1543.3 1480,1546.5C1496.4,1550.9 1520.5,1553.7 1540,1556C1558.3,1558.2 1576.2,1560.1 1593.4,1560.3C1609.5,1560.5 1622.8,1559.2 1640,1557.8C1661.6,1556 1688.6,1552.3 1712.9,1549.6"/>
<path d="M1567.5,1196.5C1578.3,1198.8 1588.2,1201 1600,1203.5C1614,1206.5 1630.2,1210 1646.2,1213.1C1663.5,1216.5 1682.3,1219.7 1700.3,1223"/>
<path d="M1567.5,1197.3C1577.1,1201.3 1587.3,1203 1596.4,1209.2C1607,1216.4 1617.4,1230.9 1625.9,1240C1632.5,1247.1 1636.6,1252.1 1643.4,1259.1C1652.2,1268.2 1662.8,1276.8 1674.7,1289.5C1692.5,1308.5 1717.1,1338.9 1738.3,1363.6"/>
<path d="M1807.3,1226L1922.1,1197.1"/>
<path d="M1807.3,1245.9C1829.6,1248 1850,1252.9 1874.1,1252.1C1902.6,1251.2 1941.8,1247 1967.2,1237.2C1987.4,1229.4 2004.6,1218.4 2017.1,1204.8C2028.6,1192.2 2033.7,1180.6 2041,1160C2054.6,1121.3 2065.6,1037.9 2074.4,984.2C2081.8,939.2 2087.8,899 2091.8,859.7C2095.3,824.7 2096.6,793.7 2098,760C2099.5,725.2 2100.2,683 2100.5,654.1C2100.7,634.2 2100.5,620.4 2100.5,603.5"/>
<path d="M1786.6,994.6C1813.6,1016.1 1844.4,1038.3 1867.6,1059C1886.8,1076.1 1905.8,1095.3 1917.4,1108.8C1924.5,1117 1927.9,1122.2 1933.2,1130C1939.4,1139.1 1945.7,1150.2 1952,1160.3"/>
<path d="M1806.3,1088.4C1830.9,1095.2 1859.9,1099 1880,1108.8C1896.2,1116.7 1908.4,1128.5 1920,1138.2C1929.8,1146.4 1937,1154.5 1945.5,1162.6"/>
<path d="M1825.5,1146.7C1843.7,1151.1 1863,1155.7 1880,1160C1895,1163.8 1908.1,1167.5 1922.2,1171.2"/>
<path d="M1814.3,1184.5L1921.7,1184.5"/>
<path d="M1563.5,1500.5C1583.9,1504.7 1602.4,1508.7 1624.8,1513C1651.7,1518.2 1684.3,1523.8 1714,1529.2"/>
<path d="M1524.9,1729C1547.7,1706.8 1577.3,1686 1593.4,1662.5C1607,1642.6 1614.7,1618.4 1620,1600C1623.9,1586.3 1625.1,1576.1 1625.8,1562.8C1626.6,1547.4 1623.7,1529 1623.6,1513C1623.5,1498.1 1623.9,1484 1625,1470C1626.1,1456.4 1627.1,1445.4 1630,1430C1634.1,1408.2 1639.2,1374 1649.8,1351.8C1659.1,1332.3 1673.5,1317.4 1687.2,1302C1700.8,1286.6 1716.9,1273.6 1731.7,1259.4"/>
<path d="M1551.3,1732.3C1560.9,1728.1 1570.6,1726.8 1580,1719.8C1592.8,1710.2 1610.3,1692.5 1617.4,1675C1624.8,1656.9 1616.7,1629.1 1622.4,1612.7C1626.7,1600.2 1632.8,1591.6 1642.3,1582.8C1654.3,1571.8 1678.7,1560.4 1692.1,1555.4C1700.3,1552.3 1706.1,1552.4 1713.1,1550.9"/>
<path d="M1551.3,1730C1560.9,1727 1569.7,1726.6 1580,1721C1595.1,1712.8 1614.2,1692 1629.8,1679.9C1643,1669.6 1653.8,1660.2 1667.2,1652.5C1680.7,1644.8 1695.9,1640 1710.3,1633.8"/>
<path d="M1551.3,1733.5C1560.9,1731 1567.5,1728.8 1580,1726C1603.3,1720.7 1647.1,1713.2 1680.7,1706.8"/>
<path d="M1816.7,1602.4C1837.5,1589.2 1867.4,1575.9 1879,1562.8C1885.8,1555.2 1886.4,1548 1890,1540C1893.9,1531.4 1897.4,1525.5 1901.4,1513C1909.8,1487 1920.9,1434.1 1929.9,1389.2C1940.5,1336.1 1956.4,1229.1 1959.8,1214.7C1960.3,1212.6 1960.5,1212.4 1960.8,1211.2"/>
<path d="M1818,1678.4C1838.3,1664.8 1864.7,1656.3 1879,1637.6C1893.8,1618.2 1896.8,1580.4 1903.9,1562.8C1907.9,1552.8 1911.8,1548.1 1914.9,1540C1918.1,1531.5 1919.9,1525.4 1922.6,1513C1928.4,1486.8 1936.1,1434.2 1942.3,1389.2C1949.7,1335.4 1956.3,1270.9 1963.2,1211.7"/>
</g>
<g fill="#191970" stroke="#191970" stroke-width="1">
<polygon points="215.8,1640.5 201.6,1645.7 201.6,1635.3"/>
<polygon points="1963.5,563.6 1956.4,550.3 1966.7,548.8"/>
<polygon points="673,58.6 658.6,63.3 659,52.9"/>
<polygon points="518,170.7 516.8,185.8 507.4,181.5"/>
<polygon points="517.9,540 520.2,554.9 510,552.9"/>
<polygon points="1742,1249.6 1735.3,1263.2 1728.1,1255.7"/>
<polygon points="1727,1548 1714.2,1556.1 1712,1546"/>
<polygon points="1964.9,1197.6 1969.2,1212.1 1958.9,1211.5"/>
<polygon points="462.3,1830.5 447.2,1829 451.7,1819.7"/>
<polygon points="492.4,1892.3 477.7,1896 478.8,1885.7"/>
<polygon points="715,82.7 703.1,92 699.9,82.1"/>
<polygon points="687,133.3 673.7,140.5 672.2,130.2"/>
<polygon points="1438.4,170.7 1424.1,175.7 1424.3,165.3"/>
<polygon points="679.2,525.9 665,531.1 665,520.7"/>
<polygon points="1750.7,462.5 1738.7,453.2 1747.5,447.7"/>
<polygon points="1452.8,269.8 1438.4,274.3 1438.9,264"/>
<polygon points="1687.2,521 1672.1,520.7 1675.8,511"/>
<polygon points="1421.7,375.5 1407.8,381.5 1407.2,371.1"/>
<polygon points="1422.2,427.3 1408.1,432.7 1407.9,422.3"/>
<polygon points="1457.6,476.4 1443.6,482.1 1443.2,471.7"/>
<polygon points="1453.1,525.9 1438.9,531.1 1438.9,520.7"/>
<polygon points="1452.1,666.2 1437.2,668.6 1439.2,658.4"/>
<polygon points="978.4,671 963.3,670.8 967,661.1"/>
<polygon points="1726,833.4 1712.1,839.3 1711.6,828.9"/>
<polygon points="994,969 982,959.8 990.7,954.2"/>
<polygon points="1473.8,1475.6 1459,1472.7 1464.3,1463.8"/>
<polygon points="1238.4,590.5 1235.6,605.4 1226.7,600.1"/>
<polygon points="1207.2,918.5 1195.2,927.7 1192.1,917.8"/>
<polygon points="1446.4,981.8 1432.2,987 1432.2,976.6"/>
<polygon points="1452.4,1738.5 1437.5,1740.9 1439.5,1730.7"/>
<polygon points="1727,1548 1715.1,1557.4 1711.9,1547.5"/>
<polygon points="1234.6,1197.3 1220.7,1191.4 1227.8,1183.8"/>
<polygon points="1482.2,285.3 1474.2,298.1 1467.8,289.9"/>
<polygon points="1434,386.6 1423,397 1418.9,387.5"/>
<polygon points="1437.7,438.3 1428.2,450.1 1422.9,441.2"/>
<polygon points="1457.6,485.5 1445.7,494.9 1442.5,485"/>
<polygon points="1453.1,535.8 1440.2,543.7 1438.2,533.5"/>
<polygon points="1725.2,476.4 1711.9,483.6 1710.4,473.3"/>
<polygon points="1696.5,538.7 1684.7,548.2 1681.4,538.4"/>
<polygon points="1453.1,664.2 1438,665.3 1440.8,655.3"/>
<polygon points="1486.3,1475.6 1473.8,1467.1 1482.3,1461"/>
<polygon points="1491.2,918.5 1478.8,909.9 1487.2,903.9"/>
<polygon points="1726,821.5 1710.9,822.9 1713.6,812.8"/>
<polygon points="1725.3,476 1712.4,483.9 1710.4,473.7"/>
<polygon points="1923.4,574.3 1909.1,579.3 1909.3,568.9"/>
<polygon points="1694.6,640.1 1681.7,648 1679.7,637.7"/>
<polygon points="1925.4,654.1 1911.5,660.1 1910.9,649.8"/>
<polygon points="1964.7,1172.9 1957.7,1159.5 1968,1158.1"/>
<polygon points="1735,918.3 1720.2,915.4 1725.5,906.5"/>
<polygon points="1923.4,586.8 1910.9,595.3 1908.4,585.2"/>
<polygon points="1925.4,647.8 1910.7,651.2 1912,640.8"/>
<polygon points="1923.4,565.6 1908.4,567.3 1910.8,557.2"/>
<polygon points="2061,563.9 2046.1,566.6 2047.9,556.3"/>
<polygon points="2080.9,563.9 2065.9,562.3 2070.5,553"/>
<polygon points="2058.4,576.6 2044.2,581.8 2044.2,571.4"/>
<polygon points="2212.7,715.6 2199.8,707.7 2207.9,701.3"/>
<polygon points="1723.2,272.4 1709,277.6 1709,267.2"/>
<polygon points="1963.5,563.6 1955.5,550.7 1965.7,548.6"/>
<polygon points="1714.3,1235 1699.5,1238.2 1701,1227.9"/>
<polygon points="1952.6,589.3 1943.5,601.4 1937.9,592.7"/>
<polygon points="1726,835 1713,842.8 1711.1,832.6"/>
<polygon points="1741.6,1525.7 1727.7,1519.8 1734.8,1512.2"/>
<polygon points="1726,834 1713.6,842.7 1710.9,832.6"/>
<polygon points="2191.5,741.3 2180.4,751.6 2176.4,742"/>
<polygon points="1711.1,981.8 1696.9,987 1696.9,976.6"/>
<polygon points="1732,1070.2 1716.9,1069.6 1720.8,1060"/>
<polygon points="1695.7,1130 1680.6,1130 1684.1,1120.3"/>
<polygon points="1707.6,1183.9 1692.6,1185.9 1694.9,1175.8"/>
<polygon points="1714.3,1235 1699.5,1238.2 1701,1227.9"/>
<polygon points="1741.6,1525.7 1727.7,1519.8 1734.8,1512.2"/>
<polygon points="1951.3,590.5 1947.3,605.1 1938.9,599.1"/>
<polygon points="1714.3,1235 1699.5,1238.2 1701,1227.9"/>
<polygon points="1741.6,1525.7 1727.7,1519.8 1734.8,1512.2"/>
<polygon points="1726,834 1712.3,840.4 1711.4,830.1"/>
<polygon points="1714.3,1235 1699.5,1238.1 1701,1227.8"/>
<polygon points="1441.4,1096.1 1430,1106 1426.3,1096.3"/>
<polygon points="1451.4,1146.5 1439.2,1155.4 1436.3,1145.4"/>
<polygon points="1436.4,1191.1 1422.8,1197.7 1421.8,1187.3"/>
<polygon points="1446.4,1229.6 1431.8,1233.4 1432.8,1223.1"/>
<polygon points="1956.3,1196.8 1948.9,1210 1942.1,1202.1"/>
<polygon points="1464.3,1325.4 1449.2,1325.6 1452.6,1315.8"/>
<polygon points="1709,930.5 1695.6,937.6 1694.2,927.3"/>
<polygon points="1722.5,1399.9 1709.7,1408 1707.5,1397.8"/>
<polygon points="1727,1548 1713.5,1554.8 1712.3,1544.4"/>
<polygon points="1714.3,1225.5 1699.4,1228.1 1701.3,1217.8"/>
<polygon points="1747.5,1374.4 1734.3,1367 1742.2,1360.2"/>
<polygon points="1935.9,1193.6 1923.4,1202.1 1920.9,1192"/>
<polygon points="2100.5,589.3 2105.7,603.5 2095.3,603.5"/>
<polygon points="1959.5,1172.4 1947.6,1163.1 1956.4,1157.6"/>
<polygon points="1955.8,1172.4 1941.9,1166.4 1949.1,1158.8"/>
<polygon points="1935.9,1174.9 1920.8,1176.3 1923.5,1166.2"/>
<polygon points="1935.9,1184.5 1921.7,1189.7 1921.7,1179.3"/>
<polygon points="1728,1531.7 1713.1,1534.3 1715,1524.1"/>
<polygon points="1742,1249.6 1735.3,1263.2 1728.1,1255.7"/>
<polygon points="1727,1548 1714.2,1556 1712,1545.9"/>
<polygon points="1723.3,1628.1 1712.4,1638.5 1708.2,1629"/>
<polygon points="1694.6,1704.1 1681.6,1711.9 1679.7,1701.7"/>
<polygon points="1964.9,1197.6 1965.8,1212.7 1955.9,1209.7"/>
<polygon points="1964.9,1197.6 1968.4,1212.3 1958.1,1211.1"/>
</g>
<rect x="5.5" y="1628" width="162.3" height="25" fill="#bfbfbf" stroke="#1c1c1c" stroke-width="1.4"/>
<text x="86.7" y="1643.8" text-anchor="middle" textLength="139.5" lengthAdjust="spacingAndGlyphs">metis_partmeshdual_</text>
<rect x="216.5" y="1628" width="157.3" height="25" fill="#fff" stroke="#1c1c1c" stroke-width="1.4"/>
<text x="295.1" y="1643.8" text-anchor="middle" textLength="135.7" lengthAdjust="spacingAndGlyphs">METIS_PartMeshDual</text>
<rect x="673.7" y="57.4" width="193.7" height="25" fill="#fff" stroke="#1c1c1c" stroke-width="1.4"/>
<text x="770.5" y="73.2" text-anchor="middle" textLength="173.7" lengthAdjust="spacingAndGlyphs">ChangeMesh2CNumbering</text>
<rect x="673.7" y="108.1" width="193.7" height="25" fill="#fff" stroke="#1c1c1c" stroke-width="1.4"/>
<text x="770.5" y="123.9" text-anchor="middle" textLength="172.1" lengthAdjust="spacingAndGlyphs">ChangeMesh2FNumbering</text>
<rect x="450.3" y="145.4" width="147.3" height="25" fill="#fff" stroke="#1c1c1c" stroke-width="1.4"/>
<text x="524" y="161.2" text-anchor="middle" textLength="123.7" lengthAdjust="spacingAndGlyphs">METIS_MeshToDual</text>
<rect x="439.8" y="513.4" width="168.3" height="25" fill="#fff" stroke="#1c1c1c" stroke-width="1.4"/>
<text x="524" y="529.2" text-anchor="middle" textLength="146.3" lengthAdjust="spacingAndGlyphs">METIS_PartGraphKway</text>
<rect x="423.1" y="1830.7" width="201.7" height="25" fill="#fff" stroke="#1c1c1c" stroke-width="1.4"/>
<text x="524" y="1846.5" text-anchor="middle" textLength="180.3" lengthAdjust="spacingAndGlyphs">ChangeMesh2FNumbering2</text>
<rect x="493.1" y="1881.3" width="61.9" height="25" fill="#fff" stroke="#1c1c1c" stroke-width="1.4"/>
<text x="524" y="1897.1" text-anchor="middle" textLength="39.9" lengthAdjust="spacingAndGlyphs">iamax</text>
<rect x="679.9" y="513.4" width="181.7" height="25" fill="#fff" stroke="#1c1c1c" stroke-width="1.4"/>
<text x="770.8" y="529.2" text-anchor="middle" textLength="159.2" lengthAdjust="spacingAndGlyphs">METIS_WPartGraphKway</text>
<rect x="979.1" y="665.3" width="49.7" height="25" fill="#fff" stroke="#1c1c1c" stroke-width="1.4"/>
<text x="1004" y="681.1" text-anchor="middle" textLength="28.1" lengthAdjust="spacingAndGlyphs">log2</text>
<rect x="916.5" y="969.3" width="174.7" height="25" fill="#fff" stroke="#1c1c1c" stroke-width="1.4"/>
<text x="1003.9" y="985.1" text-anchor="middle" textLength="152.2" lengthAdjust="spacingAndGlyphs">MlevelKWayPartitioning</text>
<rect x="1144.4" y="564" width="209.4" height="25" fill="#fff" stroke="#1c1c1c" stroke-width="1.4"/>
<text x="1249.1" y="579.8" text-anchor="middle" textLength="187.6" lengthAdjust="spacingAndGlyphs">METIS_WPartGraphRecursive</text>
<rect x="1140.4" y="893.4" width="217.3" height="25" fill="#fff" stroke="#1c1c1c" stroke-width="1.4"/>
<text x="1249.1" y="909.2" text-anchor="middle" textLength="195.1" lengthAdjust="spacingAndGlyphs">AllocateKWayPartitionMemory</text>
<rect x="1170" y="1197.4" width="158.8" height="25" fill="#fff" stroke="#1c1c1c" stroke-width="1.4"/>
<text x="1249.4" y="1213.2" text-anchor="middle" textLength="138.1" lengthAdjust="spacingAndGlyphs">ComputePartitionInfo</text>
<rect x="1439.1" y="158.8" width="125.6" height="25" fill="#fff" stroke="#1c1c1c" stroke-width="1.4"/>
<text x="1501.9" y="174.6" text-anchor="middle" textLength="103.1" lengthAdjust="spacingAndGlyphs">GENDUALMETIS</text>
<rect x="1453.5" y="260" width="96.5" height="25" fill="#fff" stroke="#1c1c1c" stroke-width="1.4"/>
<text x="1501.8" y="275.8" text-anchor="middle" textLength="74.6" lengthAdjust="spacingAndGlyphs">InitRandom</text>
<rect x="1422.4" y="361.2" width="159.3" height="25" fill="#fff" stroke="#1c1c1c" stroke-width="1.4"/>
<text x="1502.1" y="377" text-anchor="middle" textLength="139.4" lengthAdjust="spacingAndGlyphs">Change2CNumbering</text>
<rect x="1422.9" y="412" width="157.8" height="25" fill="#fff" stroke="#1c1c1c" stroke-width="1.4"/>
<text x="1501.8" y="427.8" text-anchor="middle" textLength="137.8" lengthAdjust="spacingAndGlyphs">Change2FNumbering</text>
<rect x="1458.3" y="462.7" width="87.1" height="25" fill="#fff" stroke="#1c1c1c" stroke-width="1.4"/>
<text x="1501.8" y="478.5" text-anchor="middle" textLength="64.7" lengthAdjust="spacingAndGlyphs">InitTimers</text>
<rect x="1453.8" y="513.4" width="96" height="25" fill="#fff" stroke="#1c1c1c" stroke-width="1.4"/>
<text x="1501.8" y="529.2" text-anchor="middle" textLength="73.8" lengthAdjust="spacingAndGlyphs">PrintTimers</text>
<rect x="1452.3" y="665.3" width="98.8" height="25" fill="#fff" stroke="#1c1c1c" stroke-width="1.4"/>
<text x="1501.7" y="681.1" text-anchor="middle" textLength="79" lengthAdjust="spacingAndGlyphs">SetUpGraph</text>
<rect x="1407" y="918.8" width="189.7" height="25" fill="#fff" stroke="#ff0000" stroke-width="1.4"/>
<text x="1501.8" y="934.6" text-anchor="middle" textLength="164.7" lengthAdjust="spacingAndGlyphs">MlevelRecursiveBisection</text>
<rect x="1447.1" y="969.3" width="109.5" height="25" fill="#fff" stroke="#1c1c1c" stroke-width="1.4"/>
<text x="1501.8" y="985.1" text-anchor="middle" textLength="89.3" lengthAdjust="spacingAndGlyphs">Coarsen2Way</text>
<rect x="1415.2" y="1070.7" width="173.5" height="25" fill="#fff" stroke="#1c1c1c" stroke-width="1.4"/>
<text x="1502" y="1086.5" text-anchor="middle" textLength="154" lengthAdjust="spacingAndGlyphs">IsConnectedSubdomain</text>
<rect x="1451.1" y="1121.3" width="101.7" height="25" fill="#fff" stroke="#1c1c1c" stroke-width="1.4"/>
<text x="1502" y="1137.1" text-anchor="middle" textLength="81.7" lengthAdjust="spacingAndGlyphs">ComputeCut</text>
<rect x="1437.1" y="1172" width="129.7" height="25" fill="#fff" stroke="#1c1c1c" stroke-width="1.4"/>
<text x="1502" y="1187.8" text-anchor="middle" textLength="107.6" lengthAdjust="spacingAndGlyphs">ComputeVolume</text>
<rect x="1447.1" y="1222.7" width="109.5" height="25" fill="#fff" stroke="#1c1c1c" stroke-width="1.4"/>
<text x="1501.8" y="1238.5" text-anchor="middle" textLength="87.6" lengthAdjust="spacingAndGlyphs">idxamax_strd</text>
<rect x="1465" y="1324" width="73.6" height="25" fill="#fff" stroke="#1c1c1c" stroke-width="1.4"/>
<text x="1501.8" y="1339.8" text-anchor="middle" textLength="52" lengthAdjust="spacingAndGlyphs">idxamin</text>
<rect x="1441.1" y="1475.9" width="121.7" height="25" fill="#fff" stroke="#1c1c1c" stroke-width="1.4"/>
<text x="1502" y="1491.7" text-anchor="middle" textLength="100.1" lengthAdjust="spacingAndGlyphs">FreeWorkSpace</text>
<rect x="1453.1" y="1729.3" width="97.5" height="25" fill="#fff" stroke="#ff0000" stroke-width="1.4"/>
<text x="1501.8" y="1745.1" text-anchor="middle" textLength="76.6" lengthAdjust="spacingAndGlyphs">RefineKWay</text>
<rect x="1723.9" y="260" width="73.6" height="25" fill="#fff" stroke="#1c1c1c" stroke-width="1.4"/>
<text x="1760.7" y="275.8" text-anchor="middle" textLength="53.1" lengthAdjust="spacingAndGlyphs">srand48</text>
<rect x="1726" y="462.7" width="69.4" height="25" fill="#fff" stroke="#1c1c1c" stroke-width="1.4"/>
<text x="1760.7" y="478.5" text-anchor="middle" textLength="47.5" lengthAdjust="spacingAndGlyphs">fmalloc</text>
<rect x="1687.9" y="513.4" width="145.6" height="25" fill="#fff" stroke="#1c1c1c" stroke-width="1.4"/>
<text x="1760.7" y="529.2" text-anchor="middle" textLength="124.8" lengthAdjust="spacingAndGlyphs">AllocateWorkSpace</text>
<rect x="1693.1" y="614.6" width="134.7" height="25" fill="#fff" stroke="#1c1c1c" stroke-width="1.4"/>
<text x="1760.5" y="630.4" text-anchor="middle" textLength="113.8" lengthAdjust="spacingAndGlyphs">SetUpGraphKway</text>
<rect x="1725.8" y="817.4" width="69.6" height="25" fill="#fff" stroke="#1c1c1c" stroke-width="1.4"/>
<text x="1760.6" y="833.2" text-anchor="middle" textLength="47.2" lengthAdjust="spacingAndGlyphs">idxsum</text>
<rect x="1709.8" y="918.8" width="101.8" height="25" fill="#fff" stroke="#1c1c1c" stroke-width="1.4"/>
<text x="1760.7" y="934.6" text-anchor="middle" textLength="79" lengthAdjust="spacingAndGlyphs">idxsum_strd</text>
<rect x="1711.8" y="969.3" width="97.5" height="25" fill="#fff" stroke="#ff0000" stroke-width="1.4"/>
<text x="1760.5" y="985.1" text-anchor="middle" textLength="75.4" lengthAdjust="spacingAndGlyphs">Match_HEM</text>
<rect x="1715.8" y="1070.7" width="89.8" height="25" fill="#fff" stroke="#ff0000" stroke-width="1.4"/>
<text x="1760.7" y="1086.5" text-anchor="middle" textLength="66.4" lengthAdjust="spacingAndGlyphs">Match_RM</text>
<rect x="1696.1" y="1121.3" width="128.7" height="25" fill="#fff" stroke="#ff0000" stroke-width="1.4"/>
<text x="1760.5" y="1137.1" text-anchor="middle" textLength="104.4" lengthAdjust="spacingAndGlyphs">Match_RM_NVW</text>
<rect x="1707.8" y="1172" width="105.8" height="25" fill="#fff" stroke="#ff0000" stroke-width="1.4"/>
<text x="1760.7" y="1187.8" text-anchor="middle" textLength="83.6" lengthAdjust="spacingAndGlyphs">Match_SHEM</text>
<rect x="1714.3" y="1222.7" width="92.3" height="25" fill="#fff" stroke="#1c1c1c" stroke-width="1.4"/>
<text x="1760.4" y="1238.5" text-anchor="middle" textLength="69.3" lengthAdjust="spacingAndGlyphs">idxsmalloc</text>
<rect x="1721.8" y="1374.7" width="77.6" height="25" fill="#fff" stroke="#1c1c1c" stroke-width="1.4"/>
<text x="1760.6" y="1390.5" text-anchor="middle" textLength="55.8" lengthAdjust="spacingAndGlyphs">idxamax</text>
<rect x="1728.1" y="1526.8" width="65.5" height="25" fill="#fff" stroke="#1c1c1c" stroke-width="1.4"/>
<text x="1760.8" y="1542.6" text-anchor="middle" textLength="44.2" lengthAdjust="spacingAndGlyphs">GKfree</text>
<rect x="1646" y="1602.7" width="229.3" height="25" fill="#fff" stroke="#1c1c1c" stroke-width="1.4"/>
<text x="1760.7" y="1618.5" text-anchor="middle" textLength="209.5" lengthAdjust="spacingAndGlyphs">ComputeKWayBalanceBoundary</text>
<rect x="1671.9" y="1678.7" width="177.7" height="25" fill="#fff" stroke="#1c1c1c" stroke-width="1.4"/>
<text x="1760.8" y="1694.5" text-anchor="middle" textLength="157.6" lengthAdjust="spacingAndGlyphs">ComputeKWayBoundary</text>
<rect x="1924.2" y="564" width="85.8" height="25" fill="#fff" stroke="#1c1c1c" stroke-width="1.4"/>
<text x="1967.1" y="579.8" text-anchor="middle" textLength="62.5" lengthAdjust="spacingAndGlyphs">idxmalloc</text>
<rect x="1926.2" y="640" width="82" height="25" fill="#fff" stroke="#1c1c1c" stroke-width="1.4"/>
<text x="1967.2" y="655.8" text-anchor="middle" textLength="60.7" lengthAdjust="spacingAndGlyphs">InitGraph</text>
<rect x="1936.1" y="1172" width="62.6" height="25" fill="#fff" stroke="#1c1c1c" stroke-width="1.4"/>
<text x="1967.4" y="1187.8" text-anchor="middle" textLength="39.4" lengthAdjust="spacingAndGlyphs">idxset</text>
<rect x="2059.1" y="564" width="84.3" height="25" fill="#fff" stroke="#1c1c1c" stroke-width="1.4"/>
<text x="2101.2" y="579.8" text-anchor="middle" textLength="61.6" lengthAdjust="spacingAndGlyphs">GKmalloc</text>
<rect x="2192.2" y="716" width="64.6" height="25" fill="#fff" stroke="#1c1c1c" stroke-width="1.4"/>
<text x="2224.5" y="731.8" text-anchor="middle" textLength="42.3" lengthAdjust="spacingAndGlyphs">errexit</text>
</svg></body></html>
